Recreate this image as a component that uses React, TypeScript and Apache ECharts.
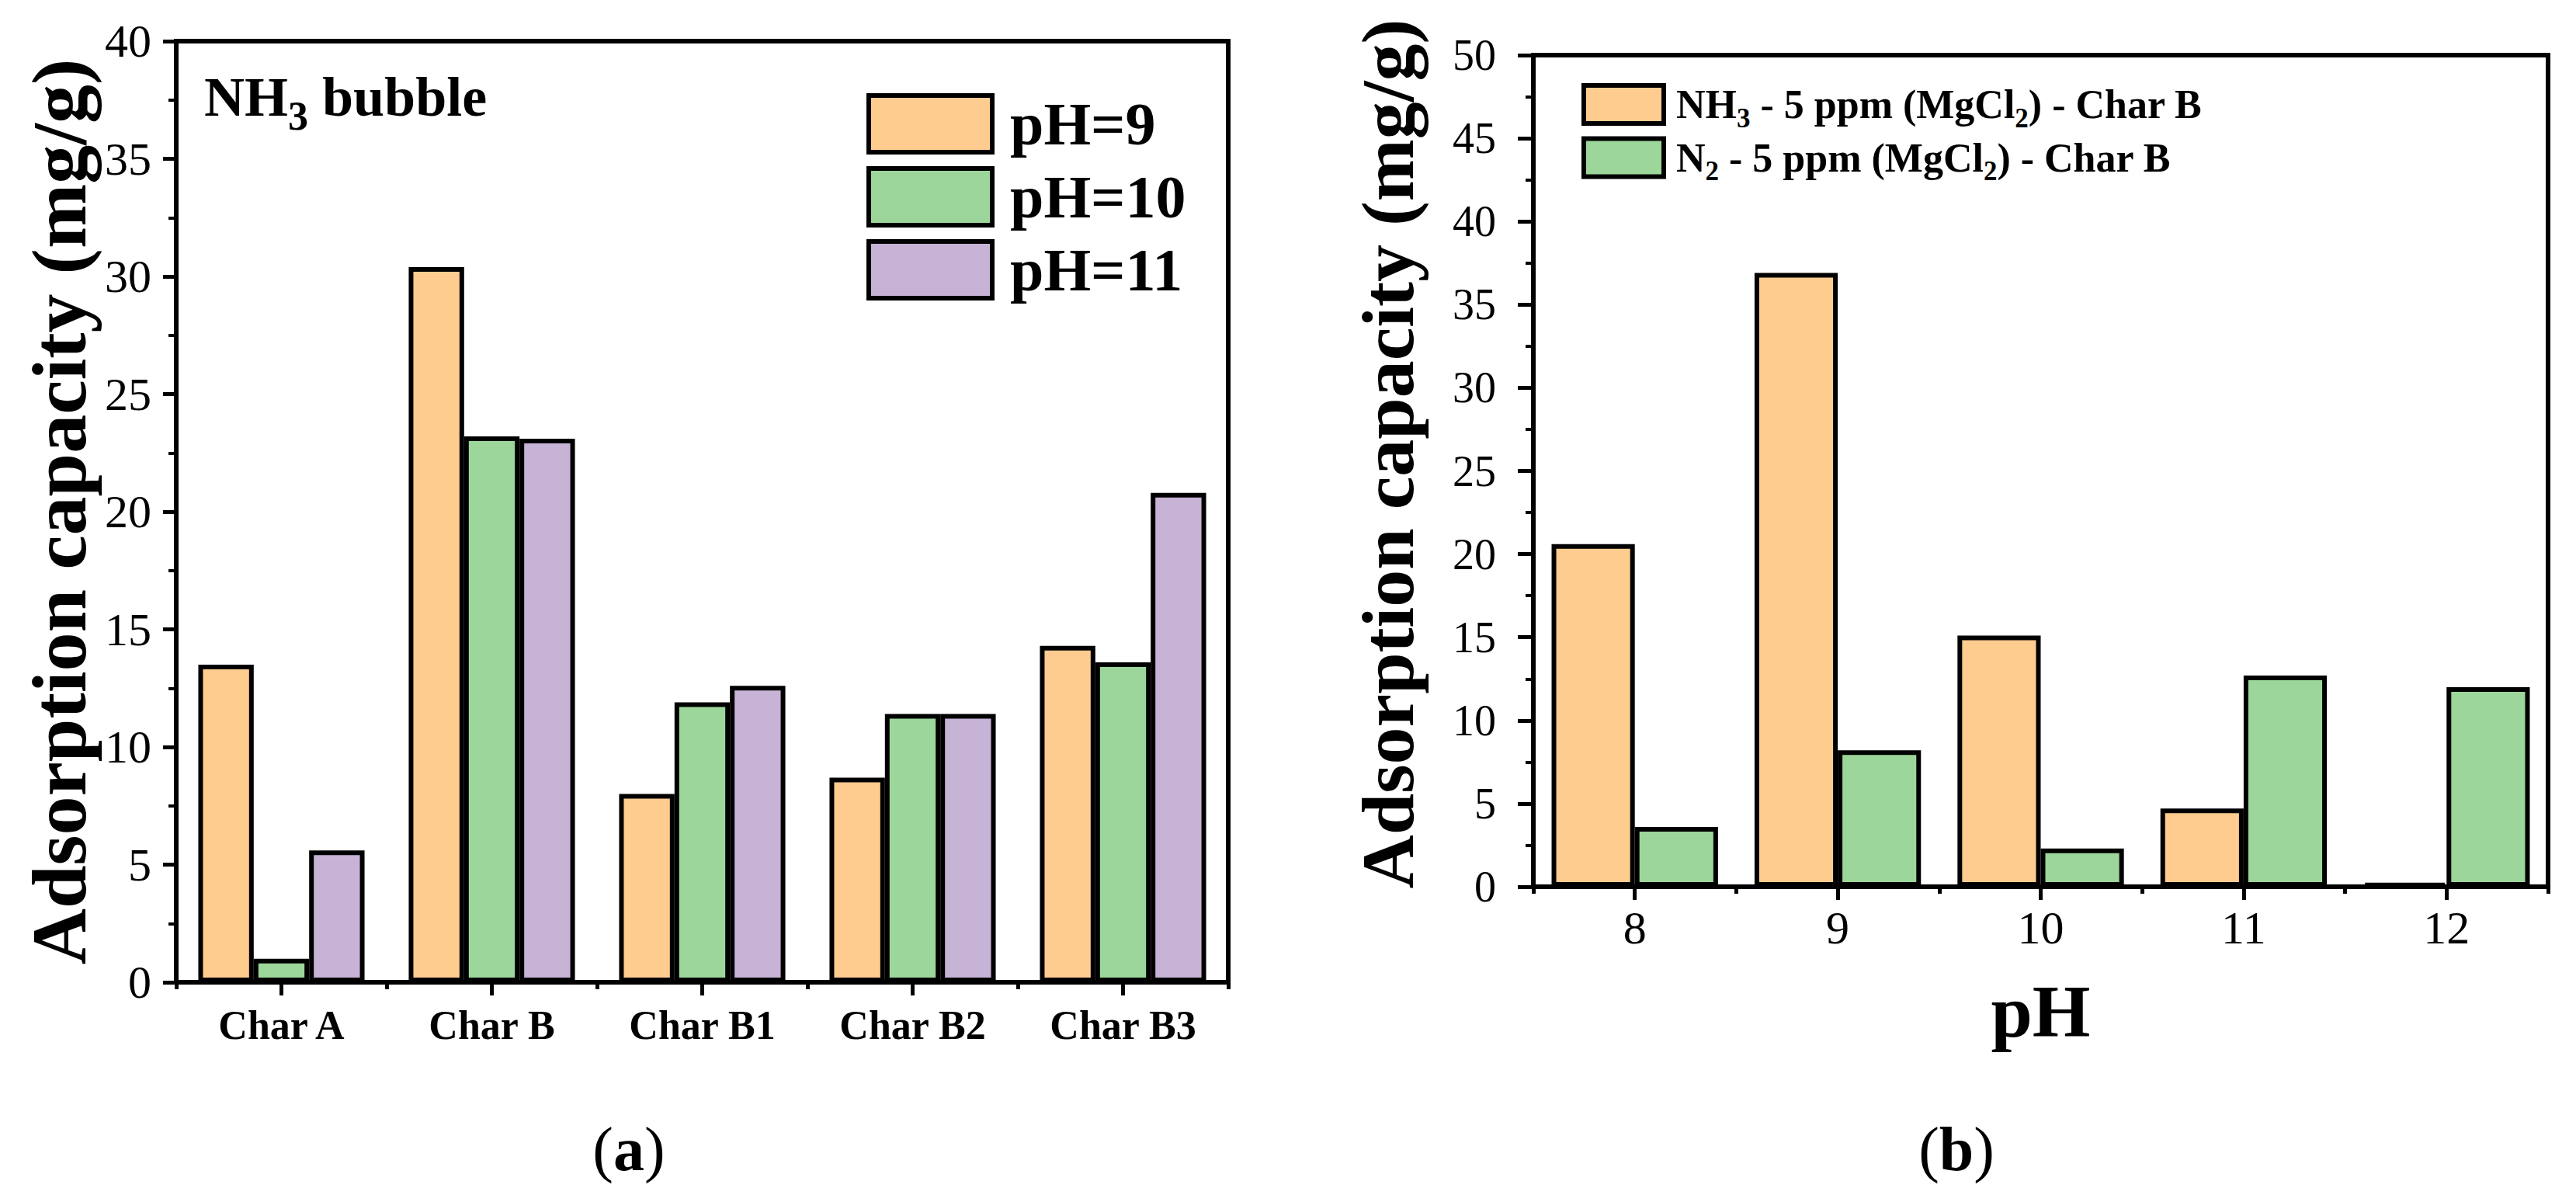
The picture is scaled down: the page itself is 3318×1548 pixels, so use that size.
import React, { useEffect, useRef } from 'react';
import * as echarts from 'echarts';

// Panel (a): adsorption of each char under NH3 bubbling at three pH levels
const charCategories = ['Char A', 'Char B', 'Char B1', 'Char B2', 'Char B3'];
const ph9Values = [13.5, 30.4, 8.0, 8.7, 14.3];
const ph10Values = [1.0, 23.2, 11.9, 11.4, 13.6];
const ph11Values = [5.6, 23.1, 12.6, 11.4, 20.8];
const seriesNamesA = ['pH=9', 'pH=10', 'pH=11'];

// Panel (b): Char B under NH3 vs N2 atmosphere across pH
const phCategories = ['8', '9', '10', '11', '12'];
const nh3Values = [20.6, 36.9, 15.1, 4.7, 0.2];
const n2Values = [3.6, 8.2, 2.3, 12.7, 12.0];
const seriesNamesB = ['NH3 - 5 ppm (MgCl2) - Char B', 'N2 - 5 ppm (MgCl2) - Char B'];
const legendRichB: Record<string, string> = {
  'NH3 - 5 ppm (MgCl2) - Char B': '{m|NH}{s|3}{m| - 5 ppm (MgCl}{s|2}{m|) - Char B}',
  'N2 - 5 ppm (MgCl2) - Char B': '{m|N}{s|2}{m| - 5 ppm (MgCl}{s|2}{m|) - Char B}',
};

const yTitle = 'Adsorption capacity (mg/g)';

const FONT = 'Liberation Serif';
const ORANGE = '#FFCC90';
const GREEN = '#9CD69A';
const PURPLE = '#C7B3D6';
const BLACK = '#000';

const axisLine = { show: true, onZero: false, lineStyle: { color: BLACK, width: 6 } };

function valueAxis(gridIndex: number, max: number, tickLen: number, labelSize: number, labelMargin: number, nameSize: number, nameGap: number, namePad: number[]) {
  return {
    gridIndex,
    type: 'value',
    min: 0,
    max,
    interval: 5,
    axisLine,
    axisTick: { show: true, inside: false, length: tickLen, lineStyle: { color: BLACK, width: 5 } },
    minorTick: { show: true, splitNumber: 2, length: 10, lineStyle: { color: BLACK, width: 4 } },
    splitLine: { show: false },
    minorSplitLine: { show: false },
    axisLabel: { fontFamily: FONT, fontSize: labelSize, color: BLACK, margin: labelMargin },
    name: yTitle,
    nameLocation: 'middle',
    nameGap,
    nameTextStyle: { fontFamily: FONT, fontWeight: 'bold', fontSize: nameSize, color: BLACK, padding: namePad },
  };
}

function categoryAxis(gridIndex: number, data: string[], label: any, extra: any = {}) {
  return {
    gridIndex,
    type: 'category',
    position: 'bottom',
    data,
    axisLine,
    axisTick: { show: true, alignWithLabel: true, interval: 0, length: 17, lineStyle: { color: BLACK, width: 5 } },
    axisLabel: { interval: 0, color: BLACK, fontFamily: FONT, ...label },
    splitLine: { show: false },
    ...extra,
  };
}

// second category axis on each grid: short ticks on the category boundaries
function boundaryTicks(gridIndex: number, data: string[]) {
  return {
    gridIndex,
    type: 'category',
    position: 'bottom',
    data,
    axisLine: { show: false },
    axisTick: { show: true, alignWithLabel: false, interval: 0, length: 9, lineStyle: { color: BLACK, width: 5 } },
    axisLabel: { show: false },
    splitLine: { show: false },
  };
}

function barSeries(name: string, data: number[], color: string, xAxisIndex: number, yAxisIndex: number, gap: string) {
  return {
    name,
    type: 'bar',
    data,
    xAxisIndex,
    yAxisIndex,
    barGap: '0%',
    barCategoryGap: gap,
    itemStyle: { color, borderColor: BLACK, borderWidth: 6 },
  };
}

const option = {
  animation: false,
  backgroundColor: '#fff',
  grid: [
    { left: 227, top: 53, width: 1355, height: 1212, show: true, borderColor: BLACK, borderWidth: 6, backgroundColor: 'transparent' },
    { left: 1975, top: 71, width: 1307, height: 1071, show: true, borderColor: BLACK, borderWidth: 6, backgroundColor: 'transparent' },
  ],
  xAxis: [
    categoryAxis(0, charCategories, { fontWeight: 'bold', fontSize: 52, margin: 29 }),
    boundaryTicks(0, charCategories),
    categoryAxis(1, phCategories, { fontSize: 60, margin: 23 }, {
      name: 'pH',
      nameLocation: 'middle',
      nameGap: 112,
      nameTextStyle: { fontFamily: FONT, fontWeight: 'bold', fontSize: 96, color: BLACK },
    }),
    boundaryTicks(1, phCategories),
  ],
  yAxis: [
    valueAxis(0, 40, 17, 60, 32, 100, 101, [0, 0, 0, 0]),
    valueAxis(1, 50, 20, 56, 48, 96, 140, [0, 0, 0, 44]),
  ],
  legend: [
    {
      data: seriesNamesA,
      left: 1116,
      top: 120,
      orient: 'vertical',
      icon: 'rect',
      itemWidth: 159,
      itemHeight: 73,
      itemGap: 15,
      padding: 0,
      selectedMode: false,
      itemStyle: { borderColor: BLACK, borderWidth: 6 },
      textStyle: { fontFamily: FONT, fontWeight: 'bold', fontSize: 78, lineHeight: 73, color: BLACK, padding: [0, 0, 0, 18] },
    },
    {
      data: seriesNamesB,
      left: 2037,
      top: 107,
      orient: 'vertical',
      icon: 'rect',
      itemWidth: 103,
      itemHeight: 49,
      itemGap: 6,
      padding: 0,
      selectedMode: false,
      itemStyle: { borderColor: BLACK, borderWidth: 6 },
      formatter: (name: string) => legendRichB[name] || name,
      textStyle: {
        color: BLACK,
        padding: [0, 0, 0, 11],
        rich: {
          m: { fontFamily: FONT, fontWeight: 'bold', fontSize: 52, lineHeight: 70, color: BLACK },
          s: { fontFamily: FONT, fontWeight: 'bold', fontSize: 35, lineHeight: 35, verticalAlign: 'bottom', color: BLACK },
        },
      },
    },
  ],
  series: [
    barSeries(seriesNamesA[0], ph9Values, ORANGE, 0, 0, '21%'),
    barSeries(seriesNamesA[1], ph10Values, GREEN, 0, 0, '21%'),
    barSeries(seriesNamesA[2], ph11Values, PURPLE, 0, 0, '21%'),
    barSeries(seriesNamesB[0], nh3Values, ORANGE, 2, 1, '18%'),
    barSeries(seriesNamesB[1], n2Values, GREEN, 2, 1, '18%'),
  ],
  graphic: [
    {
      type: 'text',
      x: 263,
      y: 125,
      z: 10,
      style: {
        text: '{m|NH}{s|3}{m| bubble}',
        fill: BLACK,
        align: 'left',
        verticalAlign: 'middle',
        rich: {
          m: { fontFamily: FONT, fontWeight: 'bold', fontSize: 72, lineHeight: 100, fill: BLACK },
          s: { fontFamily: FONT, fontWeight: 'bold', fontSize: 52, lineHeight: 50, verticalAlign: 'bottom', fill: BLACK },
        },
      },
    },
    {
      type: 'text',
      x: 810,
      y: 1480,
      style: {
        text: '{p|(}{b|a}{p|)}',
        fill: BLACK,
        align: 'center',
        verticalAlign: 'middle',
        rich: {
          p: { fontFamily: FONT, fontSize: 80, fill: BLACK },
          b: { fontFamily: FONT, fontWeight: 'bold', fontSize: 80, fill: BLACK },
        },
      },
    },
    {
      type: 'text',
      x: 2520,
      y: 1480,
      style: {
        text: '{p|(}{b|b}{p|)}',
        fill: BLACK,
        align: 'center',
        verticalAlign: 'middle',
        rich: {
          p: { fontFamily: FONT, fontSize: 80, fill: BLACK },
          b: { fontFamily: FONT, fontWeight: 'bold', fontSize: 80, fill: BLACK },
        },
      },
    },
  ],
};

export default function App() {
  const ref = useRef<HTMLDivElement>(null);
  useEffect(() => {
    document.body.style.margin = '0';
    const chart = echarts.init(ref.current as HTMLDivElement, undefined, { renderer: 'svg' });
    chart.setOption(option as any);
    return () => chart.dispose();
  }, []);
  return <div ref={ref} style={{ width: 3318, height: 1548, background: '#fff' }} />;
}
